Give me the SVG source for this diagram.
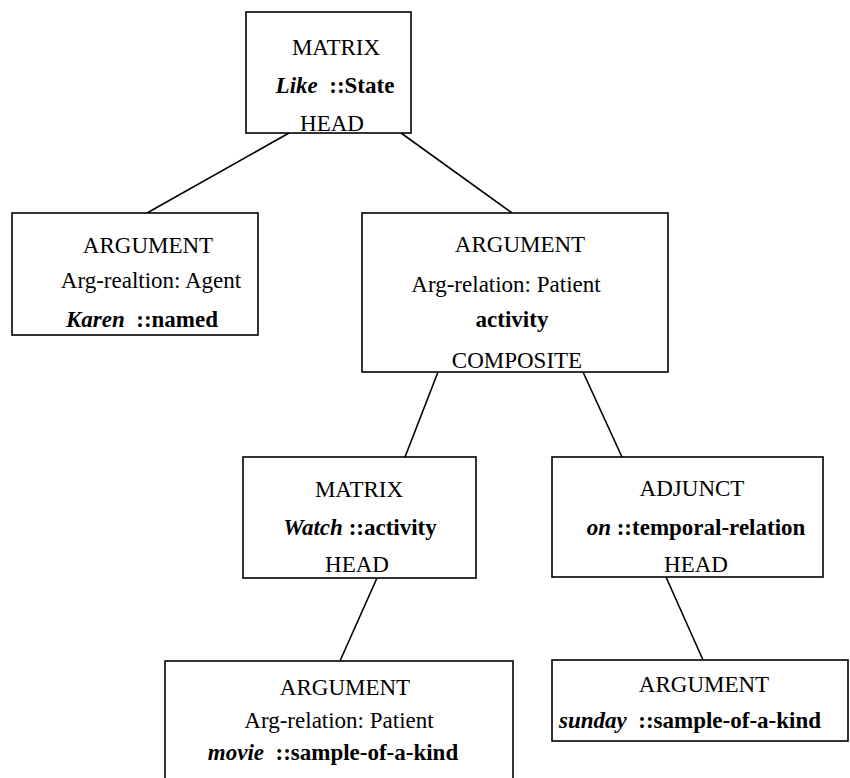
<svg xmlns="http://www.w3.org/2000/svg" width="850" height="778" viewBox="0 0 850 778">
<style>
.box{fill:#fff;stroke:#000;stroke-width:1.6}
.edge{stroke:#000;stroke-width:1.6;fill:none}
text{font-family:"Liberation Serif","Times New Roman",serif;font-size:23px;fill:#000;text-anchor:middle}
.b{font-weight:bold}
.i{font-style:italic;font-weight:bold}
</style>
<rect width="850" height="778" fill="#fff"/>
<g id="connectors">
<line class="edge" x1="289" y1="133" x2="147" y2="213"/>
<line class="edge" x1="401" y1="133" x2="512" y2="213"/>
<line class="edge" x1="438" y1="372" x2="405" y2="457"/>
<line class="edge" x1="583" y1="372" x2="622" y2="457"/>
<line class="edge" x1="377" y1="578" x2="340" y2="661"/>
<line class="edge" x1="666" y1="577" x2="703" y2="660"/>
</g>
<g id="matrix-like">
<rect class="box" x="246" y="12" width="165" height="121"/>
<text x="336" y="55">MATRIX</text>
<text x="335" y="93"><tspan class="i">Like</tspan><tspan class="b" xml:space="preserve">  ::State</tspan></text>
<text x="332" y="131">HEAD</text>
</g>
<g id="arg-karen">
<rect class="box" x="12" y="213" width="246" height="122"/>
<text x="148" y="253">ARGUMENT</text>
<text x="151" y="288">Arg-realtion: Agent</text>
<text x="142" y="327"><tspan class="i">Karen</tspan><tspan class="b" xml:space="preserve">  ::named</tspan></text>
</g>
<g id="arg-activity">
<rect class="box" x="362" y="213" width="306" height="159"/>
<text x="520" y="252">ARGUMENT</text>
<text x="506" y="292">Arg-relation: Patient</text>
<text x="512" y="327" class="b">activity</text>
<text x="517" y="368">COMPOSITE</text>
</g>
<g id="matrix-watch">
<rect class="box" x="243" y="457" width="233" height="121"/>
<text x="359" y="497">MATRIX</text>
<text x="360" y="535"><tspan class="i">Watch</tspan><tspan class="b"> ::activity</tspan></text>
<text x="357" y="572">HEAD</text>
</g>
<g id="adjunct-on">
<rect class="box" x="552" y="457" width="271" height="120"/>
<text x="692" y="496">ADJUNCT</text>
<text x="696" y="535"><tspan class="i">on</tspan><tspan class="b"> ::temporal-relation</tspan></text>
<text x="696" y="572">HEAD</text>
</g>
<g id="arg-movie">
<rect class="box" x="165" y="661" width="348" height="130"/>
<text x="345" y="695">ARGUMENT</text>
<text x="339" y="728">Arg-relation: Patient</text>
<text x="333" y="760"><tspan class="i">movie</tspan><tspan class="b" xml:space="preserve">  ::sample-of-a-kind</tspan></text>
</g>
<g id="arg-sunday">
<rect class="box" x="552" y="660" width="296" height="81"/>
<text x="704" y="692">ARGUMENT</text>
<text x="690" y="728"><tspan class="i">sunday</tspan><tspan class="b" xml:space="preserve">  ::sample-of-a-kind</tspan></text>
</g>
</svg>
